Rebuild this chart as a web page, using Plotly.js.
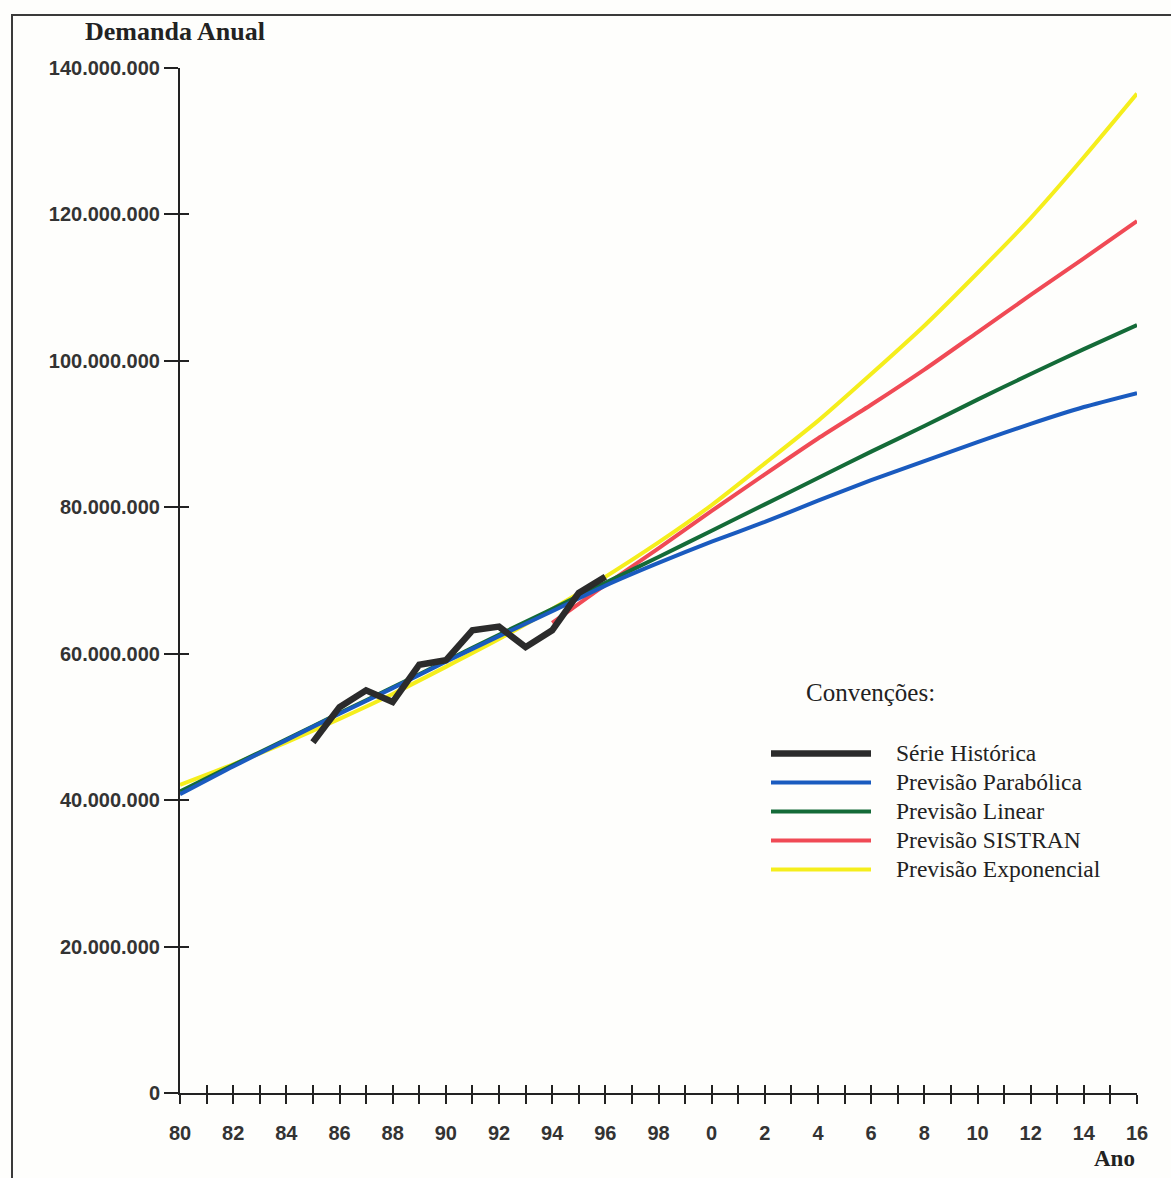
<!DOCTYPE html>
<html>
<head>
<meta charset="utf-8">
<script src="https://cdn.plot.ly/plotly-3.0.1.min.js"></script>
<style>html,body{margin:0;padding:0;background:#fefefc;}#chart{width:1171px;height:1178px;}</style>
</head>
<body>
<div id="chart"></div>
<script>
// ---- data (values in millions) ----
const histYears = [1985,1986,1987,1988,1989,1990,1991,1992,1993,1994,1995,1996];
const histValues = [47.9,52.7,55.0,53.4,58.5,59.1,63.2,63.7,60.9,63.2,68.3,70.5];

const fcYears = [1980,1982,1984,1986,1988,1990,1992,1994,1996,1998,2000,2002,2004,2006,2008,2010,2012,2014,2016];
const parabolica = [40.8,44.6,48.2,51.8,55.3,58.9,62.4,65.8,69.3,72.4,75.3,78.0,80.9,83.7,86.3,88.9,91.4,93.7,95.6];
const linear = [41.2,44.8,48.3,51.9,55.4,59.0,62.6,66.1,69.7,73.2,76.8,80.4,84.0,87.6,91.1,94.7,98.2,101.6,104.9];
const exponencial = [42.1,44.9,47.9,51.1,54.5,58.2,62.0,66.1,70.5,75.2,80.3,86.0,91.8,98.2,104.8,112.0,119.5,127.8,136.5];

const sistranYears = [1994,1996,1998,2000,2002,2004,2006,2008,2010,2012,2014,2016];
const sistran = [64.2,69.4,74.4,79.5,84.5,89.4,94.0,98.8,103.9,109.0,114.0,119.1];

const xTickVals = [1980,1981,1982,1983,1984,1985,1986,1987,1988,1989,1990,1991,1992,1993,1994,1995,1996,1997,1998,1999,2000,2001,2002,2003,2004,2005,2006,2007,2008,2009,2010,2011,2012,2013,2014,2015,2016];
const xTickText = ['80','','82','','84','','86','','88','','90','','92','','94','','96','','98','','0','','2','','4','','6','','8','','10','','12','','14','','16'];
const yTickVals = [0,20,40,60,80,100,120,140];
const yTickText = ['0','20.000.000','40.000.000','60.000.000','80.000.000','100.000.000','120.000.000','140.000.000'];

const seriesNames = ['Série Histórica','Previsão Parabólica','Previsão Linear','Previsão SISTRAN','Previsão Exponencial'];
const seriesColors = ['#2b2b2b','#1a5bbf','#146b38','#f04a55','#f5ee1c'];

const lbl = s => '\u00a0\u00a0\u00a0\u00a0<span style="font-size:23.5px">' + s + '</span>';

// ---- traces (drawing order: yellow, red, green, blue, black on top) ----
const traces = [
  {x: fcYears, y: exponencial, name: lbl(seriesNames[4]), legendrank: 5, mode: 'lines',
   line: {color: seriesColors[4], width: 4, shape: 'spline', smoothing: 0.6}},
  {x: sistranYears, y: sistran, name: lbl(seriesNames[3]), legendrank: 4, mode: 'lines',
   line: {color: seriesColors[3], width: 4, shape: 'spline', smoothing: 0.6}},
  {x: fcYears, y: linear, name: lbl(seriesNames[2]), legendrank: 3, mode: 'lines',
   line: {color: seriesColors[2], width: 4, shape: 'spline', smoothing: 0.6}},
  {x: fcYears, y: parabolica, name: lbl(seriesNames[1]), legendrank: 2, mode: 'lines',
   line: {color: seriesColors[1], width: 4, shape: 'spline', smoothing: 0.6}},
  {x: histYears, y: histValues, name: lbl(seriesNames[0]), legendrank: 1, mode: 'lines',
   line: {color: seriesColors[0], width: 6.5}},
  // invisible carrier trace so the overlaid tick axes (inner half of the crossing ticks) are drawn
  {x: histYears, y: histValues, xaxis: 'x2', yaxis: 'y2', mode: 'lines', showlegend: false,
   hoverinfo: 'skip', opacity: 0, line: {width: 0, color: 'rgba(0,0,0,0)'}}
];

const W = 1171, H = 1178, ML = 180, MR = 34, MT = 68, MB = 85;
const pw = W - ML - MR, ph = H - MT - MB;
const px = v => (v - ML) / pw;          // pixel x -> paper
const py = v => (H - MB - v) / ph;      // pixel y -> paper

const tickFont = {family: 'Liberation Sans, Arial, sans-serif', size: 20, color: '#333333', weight: 'bold'};
const axisColor = '#222222';

const layout = {
  width: W, height: H,
  margin: {l: ML, r: MR, t: MT, b: MB, pad: 0},
  paper_bgcolor: '#fefefc', plot_bgcolor: 'rgba(0,0,0,0)',
  showlegend: true,
  legend: {
    x: px(766), y: py(734), xanchor: 'left', yanchor: 'top',
    bgcolor: 'rgba(0,0,0,0)', borderwidth: 0,
    itemwidth: 100, traceorder: 'normal',
    font: {family: 'Liberation Serif, Times New Roman, serif', size: 20, color: '#222222'},
    itemclick: false
  },
  xaxis: {
    range: [1980, 2016], tickmode: 'array', tickvals: xTickVals, ticktext: xTickText,
    ticks: 'outside', ticklen: 9, tickwidth: 2, tickcolor: axisColor,
    showline: true, linecolor: axisColor, linewidth: 2,
    showgrid: false, zeroline: false, tickfont: tickFont, ticklabelstandoff: 12
  },
  xaxis2: {
    range: [1980, 2016], overlaying: 'x', anchor: 'y', side: 'bottom',
    tickmode: 'array', tickvals: xTickVals, ticks: 'inside', ticklen: 8, tickwidth: 2, tickcolor: axisColor,
    showticklabels: false, showline: false, showgrid: false, zeroline: false
  },
  yaxis: {
    range: [0, 140], tickmode: 'array', tickvals: yTickVals, ticktext: yTickText,
    ticks: 'outside', ticklen: 14, tickwidth: 2, tickcolor: axisColor,
    showline: true, linecolor: axisColor, linewidth: 2,
    showgrid: false, zeroline: false, tickfont: tickFont
  },
  yaxis2: {
    range: [0, 140], overlaying: 'y', anchor: 'x', side: 'left',
    tickmode: 'array', tickvals: yTickVals, ticks: 'inside', ticklen: 9, tickwidth: 2, tickcolor: axisColor,
    showticklabels: false, showline: false, showgrid: false, zeroline: false
  },
  shapes: [
    {type: 'rect', xref: 'paper', yref: 'paper', x0: px(12), x1: px(1190), y0: py(1195), y1: py(15),
     line: {color: '#3a3a3a', width: 2}, fillcolor: 'rgba(0,0,0,0)', layer: 'below'}
  ],
  annotations: [
    {text: 'Demanda Anual', xref: 'paper', yref: 'paper', x: px(175), y: py(32), xanchor: 'center', yanchor: 'middle',
     showarrow: false, font: {family: 'Liberation Serif, Times New Roman, serif', size: 26, color: '#222222', weight: 'bold'}},
    {text: 'Ano', xref: 'paper', yref: 'paper', x: px(1114), y: py(1158), xanchor: 'center', yanchor: 'middle',
     showarrow: false, font: {family: 'Liberation Serif, Times New Roman, serif', size: 23, color: '#222222', weight: 'bold'}},
    {text: 'Convenções:', xref: 'paper', yref: 'paper', x: px(870), y: py(692), xanchor: 'center', yanchor: 'middle',
     showarrow: false, font: {family: 'Liberation Serif, Times New Roman, serif', size: 25, color: '#222222'}}
  ]
};

Plotly.newPlot('chart', traces, layout, {staticPlot: true, displayModeBar: false});
</script>
</body>
</html>
